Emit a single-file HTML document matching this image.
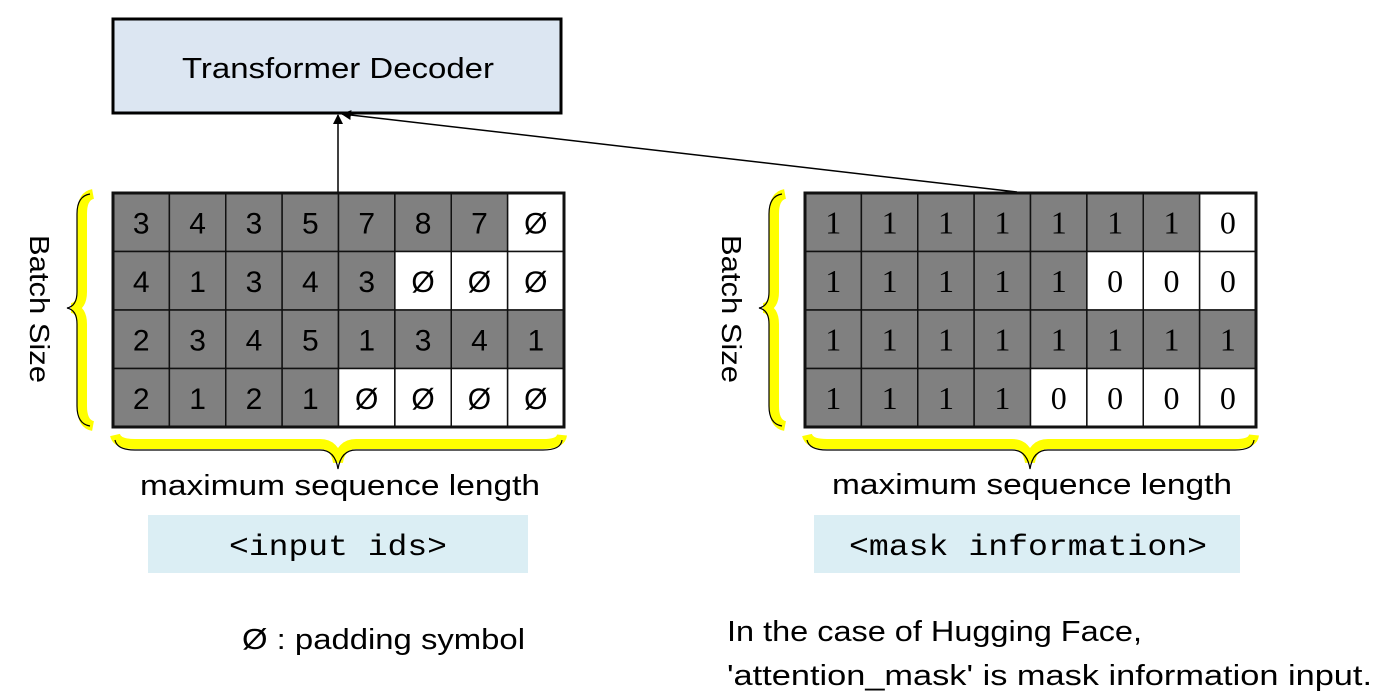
<!DOCTYPE html>
<html><head><meta charset="utf-8"><style>
html,body{margin:0;padding:0;background:#fff;}
svg{display:block;}
text{font-family:"Liberation Sans",sans-serif;fill:#000;}
.c{font-size:30px;text-anchor:middle;}
.s{font-family:"Liberation Serif",serif;font-size:32px;text-anchor:middle;}
.m{font-family:"Liberation Mono",monospace;font-size:30px;text-anchor:middle;}
</style></head><body>
<svg width="1400" height="698" viewBox="0 0 1400 698" xmlns="http://www.w3.org/2000/svg">
<defs><marker id="ah" markerWidth="10" markerHeight="10" refX="9" refY="5" orient="auto" markerUnits="userSpaceOnUse"><path d="M0,0 L10,5 L0,10 z" fill="#000"/></marker></defs>
<rect x="113" y="19" width="448" height="94" fill="#dce6f2" stroke="#000" stroke-width="3"/>
<text x="338" y="78" font-size="29" text-anchor="middle" textLength="312" lengthAdjust="spacingAndGlyphs">Transformer Decoder</text>
<line x1="338" y1="192" x2="338" y2="115" stroke="#000" stroke-width="1.5" marker-end="url(#ah)"/>
<line x1="1017" y1="192" x2="342" y2="114" stroke="#000" stroke-width="1.5" marker-end="url(#ah)"/>
<script>
(function(){
 var ns="http://www.w3.org/2000/svg",svg=document.querySelector('svg');
 function grid(x0,vals,cls,pad){
  var w=451/8,h=234/4;
  for(var r=0;r<4;r++)for(var c=0;c<8;c++){
   var v=vals[r][c],white=(v===pad);
   var rect=document.createElementNS(ns,'rect');
   rect.setAttribute('x',x0+c*w);rect.setAttribute('y',193+r*h);
   rect.setAttribute('width',w);rect.setAttribute('height',h);
   rect.setAttribute('fill',white?'#fff':'#808080');rect.setAttribute('stroke','#111');rect.setAttribute('stroke-width','1.5');
   svg.appendChild(rect);
   var t=document.createElementNS(ns,'text');
   t.setAttribute('x',x0+c*w+w/2);t.setAttribute('y',193+r*h+h/2+11);
   t.setAttribute('class',cls);t.textContent=v;svg.appendChild(t);
  }
  var o=document.createElementNS(ns,'rect');
  o.setAttribute('x',x0);o.setAttribute('y',193);o.setAttribute('width',451);o.setAttribute('height',234);
  o.setAttribute('fill','none');o.setAttribute('stroke','#111');o.setAttribute('stroke-width','3');svg.appendChild(o);
 }
 var P='Ø';
 grid(113,[['3','4','3','5','7','8','7',P],['4','1','3','4','3',P,P,P],['2','3','4','5','1','3','4','1'],['2','1','2','1',P,P,P,P]],'c',P);
 grid(805,[['1','1','1','1','1','1','1','0'],['1','1','1','1','1','0','0','0'],['1','1','1','1','1','1','1','1'],['1','1','1','1','0','0','0','0']],'s','0');
})();
</script>
<g fill="none">
<path d="M93,194 Q82,196 82,214 L82,292 Q82,306 72,308 Q82,310 82,324 L82,406 Q82,424 93,426" stroke="#ffff00" stroke-width="10"/>
<path d="M90,194 Q77,196 77,214 L77,292 Q77,306 67,308 Q77,310 77,324 L77,406 Q77,424 90,426" stroke="#000" stroke-width="1.2"/>
<path d="M115,435 Q117,444 135,444 L320,444 Q335,444 338,462 Q341,444 356,444 L543,444 Q561,444 562,435" stroke="#ffff00" stroke-width="10"/>
<path d="M115,440 Q117,450 135,450 L320,450 Q335,450 338,469 Q341,450 356,450 L543,450 Q561,450 562,440" stroke="#000" stroke-width="1.2"/>
<path d="M785,194 Q774,196 774,214 L774,292 Q774,306 764,308 Q774,310 774,324 L774,406 Q774,424 785,426" stroke="#ffff00" stroke-width="10"/>
<path d="M782,194 Q769,196 769,214 L769,292 Q769,306 759,308 Q769,310 769,324 L769,406 Q769,424 782,426" stroke="#000" stroke-width="1.2"/>
<path d="M807,435 Q809,444 827,444 L1012,444 Q1027,444 1030,462 Q1033,444 1048,444 L1235,444 Q1253,444 1254,435" stroke="#ffff00" stroke-width="10"/>
<path d="M807,440 Q809,450 827,450 L1012,450 Q1027,450 1030,469 Q1033,450 1048,450 L1235,450 Q1253,450 1254,440" stroke="#000" stroke-width="1.2"/>
</g>
<text transform="translate(30,309) rotate(90)" font-size="28" text-anchor="middle" textLength="148" lengthAdjust="spacingAndGlyphs">Batch Size</text>
<text transform="translate(722,309) rotate(90)" font-size="28" text-anchor="middle" textLength="148" lengthAdjust="spacingAndGlyphs">Batch Size</text>
<text x="340" y="495" font-size="29" text-anchor="middle" textLength="400" lengthAdjust="spacingAndGlyphs">maximum sequence length</text>
<text x="1032" y="494" font-size="29" text-anchor="middle" textLength="400" lengthAdjust="spacingAndGlyphs">maximum sequence length</text>
<rect x="148" y="515" width="380" height="58" fill="#dbeef4"/>
<text x="338" y="555" class="m" textLength="218" lengthAdjust="spacingAndGlyphs">&lt;input ids&gt;</text>
<rect x="814" y="515" width="426" height="58" fill="#dbeef4"/>
<text x="1028" y="555" class="m" textLength="358" lengthAdjust="spacingAndGlyphs">&lt;mask information&gt;</text>
<text x="242" y="649" font-size="29" textLength="283" lengthAdjust="spacingAndGlyphs">Ø : padding symbol</text>
<text x="727" y="641" font-size="29" textLength="415" lengthAdjust="spacingAndGlyphs">In the case of Hugging Face,</text>
<text x="727" y="685" font-size="29" textLength="645" lengthAdjust="spacingAndGlyphs">'attention_mask' is mask information input.</text>
</svg>
</body></html>
